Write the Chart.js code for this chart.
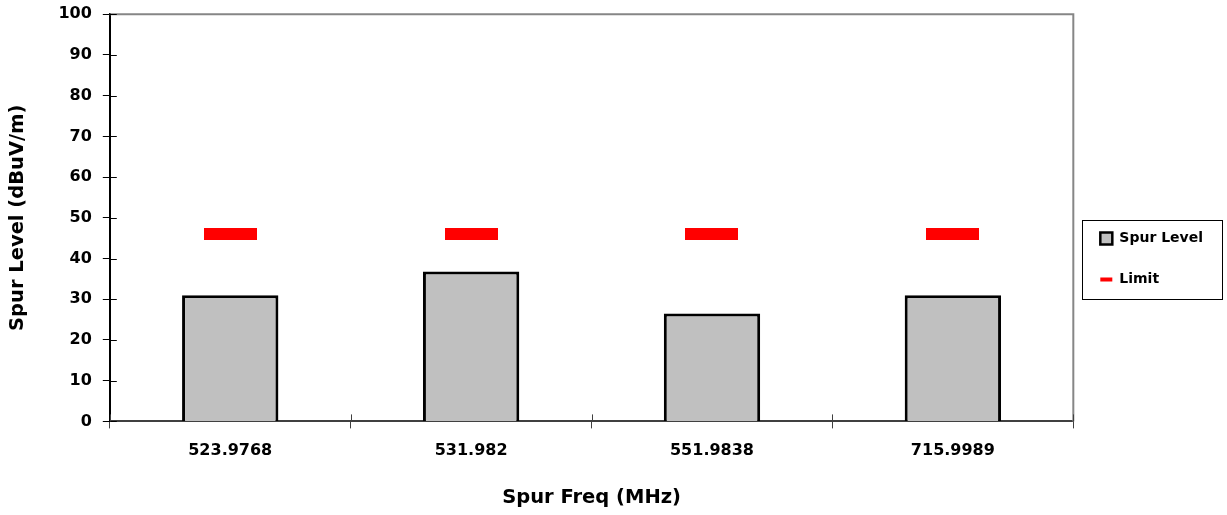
<!DOCTYPE html>
<html>
<head>
<meta charset="utf-8">
<script src="https://cdn.jsdelivr.net/npm/chart.js@4"></script>
<style>
  html, body { margin: 0; background: #fff; }
  #contenedor { width: 1227px; height: 515px; }
</style>
</head>
<body>
<div id="contenedor"><canvas id="grafico"></canvas></div>
<script>
// datos
const frecuencias = ['523.9768', '531.982', '551.9838', '715.9989'];
const nivelSpur = [31.0, 36.8, 26.5, 31.0];
const limite = [46, 46, 46, 46];
const ejeYMin = 0, ejeYMax = 100, ejeYPaso = 10;

const fuente = '"DejaVu Sans", sans-serif';

// marca roja del límite (rectángulo 53x12)
const marcaLimite = document.createElement('canvas');
marcaLimite.width = 53;
marcaLimite.height = 12;
const mctx = marcaLimite.getContext('2d');
mctx.fillStyle = '#ff0000';
mctx.fillRect(0, 0, 53, 12);

// marco gris arriba y a la derecha, y marcas de eje que cruzan hacia dentro
const marco = {
  id: 'marco',
  beforeDatasetsDraw(chart) {
    const { ctx, chartArea: a, scales } = chart;
    ctx.save();
    ctx.strokeStyle = '#868686';
    ctx.lineWidth = 2;
    ctx.beginPath();
    ctx.moveTo(a.left, a.top);
    ctx.lineTo(a.right, a.top);
    ctx.lineTo(a.right, a.bottom);
    ctx.stroke();

    ctx.lineWidth = 1;
    ctx.strokeStyle = '#000';
    ctx.beginPath();
    scales.y.ticks.forEach((t, i) => {
      const y = Math.round(scales.y.getPixelForTick(i)) + 0.5;
      ctx.moveTo(a.left, y);
      ctx.lineTo(a.left + 7, y);
    });
    ctx.stroke();
    ctx.strokeStyle = '#404040';
    ctx.beginPath();
    for (let i = 0; i <= frecuencias.length; i++) {
      const x = Math.round(a.left + (a.right - a.left) * i / frecuencias.length) + 0.5;
      ctx.moveTo(x, a.bottom);
      ctx.lineTo(x, a.bottom - 7);
    }
    ctx.stroke();
    ctx.restore();
  }
};

// caja alrededor de la leyenda
const cajaLeyenda = {
  id: 'cajaLeyenda',
  afterDraw(chart) {
    const cajas = chart.legend.legendHitBoxes;
    if (!cajas || !cajas.length) return;
    const izq = Math.min(...cajas.map(c => c.left)) - 18;
    const der = Math.max(...cajas.map(c => c.left + c.width)) + 19;
    const arr = Math.min(...cajas.map(c => c.top)) - 12;
    const aba = Math.max(...cajas.map(c => c.top + c.height)) + 12;
    const ctx = chart.ctx;
    ctx.save();
    ctx.strokeStyle = '#000';
    ctx.lineWidth = 1;
    ctx.strokeRect(Math.round(izq) + 0.5, Math.round(arr) + 0.5, Math.round(der - izq), Math.round(aba - arr));
    ctx.restore();
  }
};

new Chart(document.getElementById('grafico'), {
  data: {
    labels: frecuencias,
    datasets: [
      {
        type: 'bar',
        label: 'Spur Level',
        data: nivelSpur,
        backgroundColor: '#c0c0c0',
        borderColor: '#000',
        borderWidth: 3,
        barPercentage: 0.4,
        categoryPercentage: 1,
        order: 2
      },
      {
        type: 'line',
        label: 'Limit',
        data: limite,
        showLine: false,
        pointStyle: marcaLimite,
        pointRadius: 1,
        pointHoverRadius: 1,
        pointBorderWidth: 0,
        borderWidth: 0,
        borderColor: '#ff0000',
        backgroundColor: '#ff0000',
        order: 1
      }
    ]
  },
  options: {
    responsive: true,
    maintainAspectRatio: false,
    animation: false,
    events: [],
    layout: { padding: { top: 0, left: 6, bottom: -3, right: 14 } },
    plugins: {
      tooltip: { enabled: false },
      legend: {
        position: 'right',
        labels: {
          usePointStyle: true,
          pointStyleWidth: 12,
          boxHeight: 12,
          color: '#000',
          font: { family: fuente, size: 14, weight: 'bold' },
          padding: 27,
          sort: (a, b) => a.datasetIndex - b.datasetIndex,
          generateLabels(chart) {
            const items = Chart.defaults.plugins.legend.labels.generateLabels(chart);
            items.forEach(it => {
              if (it.datasetIndex === 0) {
                it.pointStyle = 'rect';
                it.lineWidth = 2.5;
                it.fillStyle = '#c0c0c0';
                it.strokeStyle = '#000';
              } else {
                it.pointStyle = 'line';
                it.lineWidth = 4;
                it.strokeStyle = '#ff0000';
              }
            });
            return items;
          }
        }
      }
    },
    scales: {
      x: {
        grid: { display: true, drawOnChartArea: false, tickLength: 7, color: '#404040', offset: true },
        border: { color: '#404040', width: 2 },
        ticks: { color: '#000', padding: 13, font: { family: fuente, size: 16, weight: 'bold' } },
        title: {
          display: true,
          text: 'Spur Freq (MHz)',
          color: '#000',
          font: { family: fuente, size: 19.5, weight: 'bold' },
          padding: { top: 13, bottom: 8 }
        }
      },
      y: {
        min: ejeYMin,
        max: ejeYMax,
        grid: { display: true, drawOnChartArea: false, tickLength: 7, color: '#000' },
        border: { color: '#000', width: 2 },
        ticks: { stepSize: ejeYPaso, color: '#000', padding: 11, font: { family: fuente, size: 16, weight: 'bold', lineHeight: 0.4 } },
        title: {
          display: true,
          text: 'Spur Level (dBuV/m)',
          color: '#000',
          font: { family: fuente, size: 19.5, weight: 'bold' },
          padding: { top: 0, bottom: 18 }
        }
      }
    }
  },
  plugins: [marco, cajaLeyenda]
});
</script>
</body>
</html>
